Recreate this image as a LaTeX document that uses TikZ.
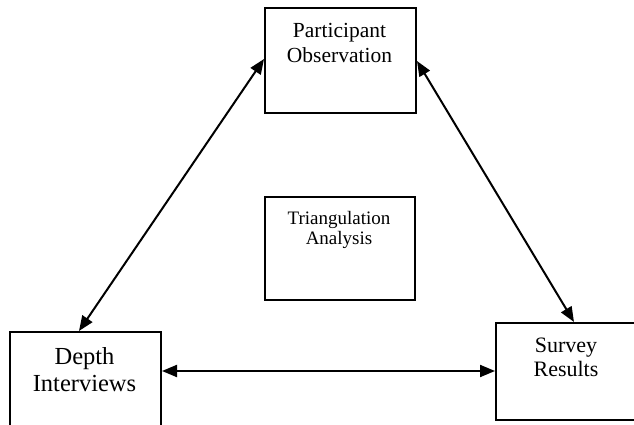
\documentclass[tikz,border=0pt]{standalone}
\usepackage{fontspec}
\setmainfont{Liberation Serif}
\usetikzlibrary{arrows.meta}
\begin{document}
\begin{tikzpicture}[x=1pt,y=1pt,
  box/.style={draw,line width=2pt,rectangle,inner sep=0pt,anchor=north west},
  lbl/.style={anchor=base,inner sep=0pt,align=center},
  conn/.style={line width=2pt,{Triangle[length=15pt,width=12pt]}-{Triangle[length=15pt,width=12pt]}}]
\useasboundingbox (0,0) rectangle (634,425);
\clip (0,0) rectangle (634,425);
\node[box,minimum width=151pt,minimum height=105pt] (po) at (264,418) {};
\node[box,minimum width=150pt,minimum height=103pt] (ta) at (264,229) {};
\node[box,minimum width=151pt,minimum height=130pt] (di) at (9,94) {};
\node[box,minimum width=200pt,minimum height=97pt] (sr) at (495,103) {};
\node[lbl,font=\fontsize{21.5}{25}\selectfont] (t1) at (339.5,387) {Participant};
\node[lbl,font=\fontsize{21.5}{25}\selectfont] (t2) at (339.5,362) {Observation};
\node[lbl,font=\fontsize{19}{22}\selectfont] (t3) at (339,200) {Triangulation};
\node[lbl,font=\fontsize{19}{22}\selectfont] (t4) at (339,180) {Analysis};
\node[lbl,font=\fontsize{24.5}{28}\selectfont] (t5) at (84.5,60) {Depth};
\node[lbl,font=\fontsize{24.5}{28}\selectfont] (t6) at (84.5,33) {Interviews};
\node[lbl,font=\fontsize{22}{25}\selectfont] (t7) at (566,72) {Survey};
\node[lbl,font=\fontsize{22}{25}\selectfont] (t8) at (566,48) {Results};
\draw[conn] ([yshift=1.5pt]po.west) -- ([xshift=-6.5pt]di.north);
\draw[conn] ([yshift=-0.5pt]po.east) -- ([xshift=79pt]sr.north west);
\draw[conn] (di.east |- 0,54) -- (sr.west |- 0,54);
\end{tikzpicture}
\end{document}
